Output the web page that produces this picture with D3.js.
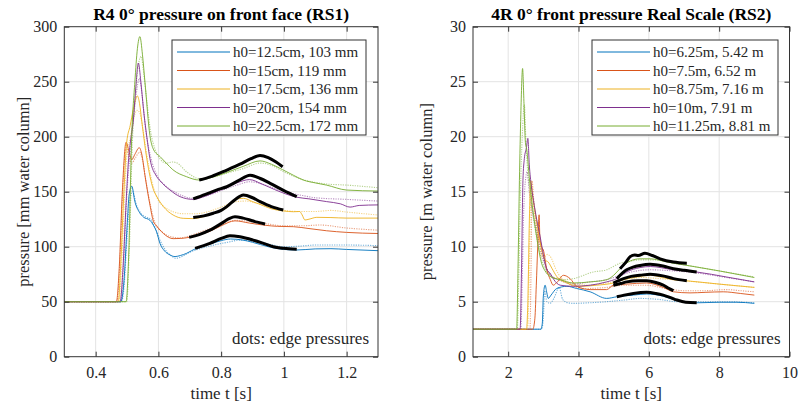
<!DOCTYPE html>
<html lang="en">
  <head>
    <meta charset="UTF-8" />
    <title>Front face pressure RS1 / RS2</title>
    <style>
      body { margin: 0; background: #ffffff; }
      svg { display: block; font-family: "Liberation Serif", "DejaVu Serif", serif; }
      .grid line { stroke: #e3e3e3; stroke-width: 1; }
      .axis text { fill: #262626; font-size: 16px; font-family: "Liberation Serif", "DejaVu Serif", serif; }
      .axis line { stroke: #333333; }
    </style>
  </head>
  <body>
    <div id="chart"></div>
    <script src="https://d3js.org/d3.v7.min.js"></script>
    <script>
      // colours of the five runs (MATLAB default order)
      const colors = ["#0072BD", "#D95319", "#EDB120", "#7E2F8E", "#77AC30"];

      // ---- RS1 (model scale, mm water column vs time s) ----
      const rs1Labels = ["h0=12.5cm, 103 mm", "h0=15cm, 119 mm", "h0=17.5cm, 136 mm", "h0=20cm, 154 mm", "h0=22.5cm, 172 mm"];
      const rs1XTicks = [0.4, 0.6, 0.8, 1, 1.2];
      const rs1YTicks = [0, 50, 100, 150, 200, 250, 300];
      const rs1Solid = [
        [[0.3,50],[0.48,50],[0.49,68],[0.5,118],[0.507,148],[0.515,155],[0.525,141],[0.54,131],[0.552,127],[0.573,124],[0.585,119],[0.594,113.6],[0.605,103],[0.62,96],[0.637,92.5],[0.653,91],[0.67,92],[0.69,94],[0.72,98.5],[0.76,102],[0.8,105.5],[0.83,107],[0.87,106],[0.9,104],[0.95,100],[1.0,97.5],[1.04,97],[1.1,98],[1.15,98.2],[1.2,97.5],[1.3,96.4]],
        [[0.3,50],[0.466,50],[0.475,80],[0.485,150],[0.497,195],[0.505,188],[0.515,179],[0.525,184],[0.539,190],[0.547,184],[0.557,165],[0.573,138],[0.584,123],[0.594,119],[0.616,112],[0.647,107.3],[0.67,107.5],[0.698,108.5],[0.73,111],[0.764,114],[0.8,119],[0.844,123.5],[0.89,121.5],[0.94,119.5],[0.98,118.5],[1.03,118.2],[1.08,116.5],[1.136,114.5],[1.2,113],[1.3,112]],
        [[0.3,50],[0.472,50],[0.48,85],[0.49,150],[0.499,195],[0.51,210],[0.52,225],[0.533,237],[0.54,230],[0.547,214],[0.563,180],[0.584,152],[0.594,146],[0.616,136.4],[0.647,128.8],[0.679,125.8],[0.711,125.5],[0.74,127],[0.775,130.4],[0.818,135.5],[0.845,143],[0.871,144],[0.9,141],[0.924,138.5],[0.96,134.5],[0.998,132.5],[1.03,131.8],[1.05,132],[1.058,129],[1.067,124.3],[1.08,125],[1.105,126.7],[1.15,126.5],[1.2,126],[1.3,126]],
        [[0.3,50],[0.478,50],[0.487,80],[0.497,140],[0.505,180],[0.512,198],[0.52,215],[0.528,245],[0.536,267],[0.544,250],[0.552,226],[0.563,200],[0.573,180],[0.594,164],[0.605,160],[0.637,151.5],[0.669,145.5],[0.711,143],[0.75,146],[0.8,152],[0.85,158],[0.89,161],[0.93,157],[0.97,152],[1.041,145],[1.08,143.5],[1.136,141],[1.18,139],[1.211,136],[1.24,137.5],[1.3,138]],
        [[0.3,50],[0.497,50],[0.505,90],[0.515,201],[0.525,250],[0.533,280],[0.541,291],[0.549,275],[0.557,250],[0.573,201],[0.585,188],[0.605,182],[0.625,176],[0.646,170],[0.69,163.6],[0.73,160.6],[0.77,163],[0.818,167.5],[0.87,173],[0.924,178],[0.96,175],[0.996,170],[1.03,165],[1.062,160.6],[1.1,158],[1.136,156],[1.2,151.5],[1.3,150.6]]
      ];
      const rs1Dots = [
        [[0.3,50],[0.482,50],[0.49,62],[0.5,108],[0.51,145],[0.518,150],[0.53,138],[0.545,130],[0.56,127],[0.575,125],[0.59,117],[0.605,106],[0.62,98],[0.64,92],[0.655,89.5],[0.675,91],[0.7,95],[0.73,98],[0.77,101],[0.82,104],[0.86,106],[0.9,105],[0.95,102.5],[1.0,100],[1.05,100.5],[1.1,101.5],[1.2,101.5],[1.3,101]],
        [[0.3,50],[0.468,50],[0.477,85],[0.487,155],[0.497,190],[0.505,183],[0.515,176],[0.527,181],[0.54,186],[0.55,178],[0.56,160],[0.575,137],[0.59,121],[0.61,114],[0.64,109],[0.67,108],[0.7,110],[0.75,115],[0.8,120],[0.845,124],[0.89,123],[0.94,121],[1.0,119],[1.06,119],[1.115,119.7],[1.2,117],[1.3,115]],
        [[0.3,50],[0.474,50],[0.482,80],[0.492,145],[0.5,185],[0.51,198],[0.52,215],[0.532,224],[0.54,222],[0.55,208],[0.565,180],[0.585,153],[0.6,142],[0.62,136],[0.647,131.8],[0.68,130],[0.72,130],[0.76,132],[0.8,136],[0.85,141],[0.88,141.5],[0.92,139],[0.96,135.5],[1.0,133],[1.05,132],[1.1,132],[1.15,133],[1.2,131.5],[1.3,128.8]],
        [[0.3,50],[0.48,50],[0.489,85],[0.5,150],[0.51,185],[0.52,215],[0.53,240],[0.539,253],[0.548,238],[0.56,205],[0.575,182],[0.595,165],[0.62,156],[0.65,150],[0.68,146],[0.71,144],[0.75,146],[0.8,151],[0.85,156],[0.89,159],[0.93,157],[0.97,153],[1.02,149],[1.06,146.5],[1.1,144.5],[1.2,143],[1.3,141.5]],
        [[0.3,50],[0.499,50],[0.507,95],[0.517,195],[0.527,240],[0.536,265],[0.545,273],[0.553,258],[0.562,235],[0.575,205],[0.59,188],[0.605,180],[0.625,176],[0.645,177],[0.66,176],[0.69,168],[0.73,162],[0.77,163],[0.82,167],[0.87,171],[0.924,176],[0.96,174],[1.0,168],[1.06,161],[1.136,157],[1.2,156],[1.3,153.6]]
      ];
      const rs1Fit = [
        [[0.717,98.5],[0.764,103],[0.8,107.5],[0.828,110],[0.86,109],[0.902,106],[0.935,103],[0.966,100],[1.0,98.5],[1.041,97.6]],
        [[0.698,108.5],[0.73,111],[0.764,115],[0.8,121],[0.825,125.5],[0.844,127.3],[0.87,126],[0.892,124.3],[0.915,122.3],[0.94,120.6]],
        [[0.711,126.5],[0.745,128],[0.775,130.4],[0.8,133],[0.818,136.4],[0.845,143],[0.871,147],[0.9,144.5],[0.924,141],[0.96,136.5],[0.998,133.4]],
        [[0.711,143.4],[0.75,147.5],[0.785,151.5],[0.818,154.5],[0.855,160],[0.892,165],[0.925,162],[0.956,157.6],[1.0,151],[1.041,145.5]],
        [[0.73,160.6],[0.77,164],[0.818,169.7],[0.86,175],[0.895,180],[0.924,183],[0.95,181],[0.975,177],[0.996,172.7]]
      ];

      // ---- RS2 (real scale, m water column vs time s) ----
      const rs2Labels = ["h0=6.25m, 5.42 m", "h0=7.5m, 6.52 m", "h0=8.75m, 7.16 m", "h0=10m, 7.91 m", "h0=11.25m, 8.81 m"];
      const rs2XTicks = [2, 4, 6, 8, 10];
      const rs2YTicks = [0, 5, 10, 15, 20, 25, 30];
      const rs2Solid = [
        [[1,2.5],[2.93,2.5],[2.97,3.0],[3.0,5.5],[3.05,6.5],[3.1,5.8],[3.14,5.3],[3.22,5.6],[3.38,6.2],[3.67,6.4],[3.95,6.2],[4.33,5.9],[4.8,5.3],[5.09,5.45],[5.56,5.6],[5.94,5.7],[6.41,5.5],[6.8,5.1],[7.36,4.9],[8.0,4.95],[8.5,4.95],[9,4.85]],
        [[1,2.5],[2.7,2.5],[2.76,3.5],[2.8,6.5],[2.84,10],[2.88,12.9],[2.9,11],[2.95,10],[3.0,9.7],[3.1,7.9],[3.2,7.0],[3.28,6.5],[3.4,6.8],[3.57,7.4],[3.76,7.1],[3.95,6.4],[4.33,6.1],[4.8,6.1],[4.99,6.5],[5.37,6.6],[5.94,6.7],[6.41,6.3],[6.7,5.9],[7.17,5.8],[7.6,5.85],[8.12,5.9],[8.6,5.75],[9,5.6]],
        [[1,2.5],[2.52,2.5],[2.56,5],[2.6,12],[2.64,16],[2.7,14.5],[2.76,13.3],[2.85,11.5],[2.95,9.7],[3.05,8.8],[3.14,8.6],[3.25,8.0],[3.38,7.3],[3.67,6.7],[4.04,6.4],[4.52,6.5],[4.99,6.7],[5.28,7.0],[5.75,7.3],[6.04,7.4],[6.4,7.2],[6.7,7.0],[7.08,6.9],[8,6.6],[9,6.3]],
        [[1,2.5],[2.34,2.5],[2.38,8],[2.42,16],[2.46,18],[2.52,19],[2.56,19.85],[2.6,17.5],[2.66,15.5],[2.72,14.2],[2.81,12.5],[2.91,10.9],[3.0,9.3],[3.1,7.9],[3.19,7.6],[3.3,7.0],[3.48,6.5],[3.85,6.4],[4.33,6.5],[4.8,6.8],[5.09,7.1],[5.37,7.7],[5.75,8.1],[6.04,8.2],[6.7,7.9],[7.36,7.7],[8.2,7.25],[9,6.8]],
        [[1,2.5],[2.24,2.5],[2.28,8],[2.32,16],[2.36,22],[2.41,26.2],[2.45,23],[2.49,19.5],[2.53,18.8],[2.6,16.3],[2.67,14.2],[2.81,10.9],[2.95,8.5],[3.05,7.8],[3.19,7.3],[3.48,7.0],[3.85,6.7],[4.33,6.8],[4.8,7.0],[5.0,7.4],[5.18,8.0],[5.47,8.7],[5.75,8.9],[6.04,8.9],[6.4,8.7],[6.7,8.5],[7.08,8.3],[8,7.8],[9,7.2]]
      ];
      const rs2Dots = [
        [[1,2.5],[2.95,2.5],[3.0,3.5],[3.04,6.0],[3.1,5.0],[3.19,4.85],[3.3,5.3],[3.45,6.3],[3.55,5.2],[3.7,4.9],[3.85,4.85],[4.3,4.9],[4.8,5.0],[5.3,5.15],[5.75,5.3],[6.3,5.2],[6.8,5.0],[7.5,5.0],[8.2,5.0],[9,4.9]],
        [[1,2.5],[2.62,2.5],[2.65,8],[2.68,16],[2.72,14.5],[2.8,12],[2.9,10.5],[3.0,9.0],[3.1,8.0],[3.25,7.2],[3.45,7.1],[3.6,6.9],[3.8,6.5],[4.2,6.2],[4.8,6.3],[5.3,6.5],[5.9,6.5],[6.5,6.2],[7.0,6.0],[7.6,6.0],[8.2,6.1],[8.6,6.0],[9,5.9]],
        [[1,2.5],[2.55,2.5],[2.59,6],[2.63,13],[2.67,15],[2.73,13.5],[2.82,11.5],[2.92,9.5],[3.0,9.0],[3.12,9.3],[3.22,9.0],[3.35,8.0],[3.5,7.2],[3.8,6.7],[4.3,6.5],[4.8,6.7],[5.3,7.0],[5.8,7.2],[6.3,7.1],[7.0,6.9],[8.0,6.6],[9,6.3]],
        [[1,2.5],[2.36,2.5],[2.4,7],[2.44,13],[2.49,16],[2.54,16.8],[2.6,15],[2.7,13],[2.8,11.5],[2.9,10],[3.0,8.8],[3.1,8.0],[3.25,7.3],[3.5,6.9],[3.85,6.6],[4.33,6.8],[4.8,7.0],[5.1,7.3],[5.5,7.7],[6.04,7.9],[6.7,7.8],[7.4,7.6],[8.2,7.2],[9,6.8]],
        [[1,2.5],[2.26,2.5],[2.3,7],[2.35,15],[2.4,20],[2.46,22.9],[2.5,20],[2.55,17],[2.62,15],[2.7,13],[2.8,11],[2.92,9.2],[3.05,8.0],[3.2,7.4],[3.5,7.0],[3.85,7.1],[4.42,7.7],[4.8,7.9],[5.18,8.5],[5.5,8.7],[5.75,8.8],[6.2,8.8],[6.7,8.5],[7.1,8.3],[8,7.8],[9,7.25]]
      ];
      const rs2Fit = [
        [[5.09,5.45],[5.3,5.6],[5.56,5.75],[5.94,5.85],[6.2,5.75],[6.41,5.6],[6.6,5.4],[6.8,5.15],[7.05,4.95],[7.36,4.9]],
        [[4.99,6.5],[5.2,6.65],[5.37,6.8],[5.7,6.9],[5.94,6.9],[6.2,6.75],[6.41,6.5],[6.55,6.25],[6.7,6.0]],
        [[4.99,6.7],[5.28,7.1],[5.5,7.3],[5.75,7.4],[6.04,7.5],[6.4,7.35],[6.7,7.1],[7.08,6.9]],
        [[5.09,7.1],[5.37,7.9],[5.55,8.15],[5.75,8.3],[6.04,8.4],[6.4,8.25],[6.7,8.0],[7.0,7.85],[7.36,7.7]],
        [[5.18,8.0],[5.35,8.6],[5.47,9.1],[5.6,9.25],[5.7,9.2],[5.89,9.4],[6.1,9.2],[6.32,8.9],[6.7,8.6],[7.08,8.5]]
      ];

      const width = 799;
      const height = 407;

      const svg = d3.select("#chart")
        .append("svg")
        .attr("width", width)
        .attr("height", height);

      drawPanel({
        id: "rs1", left: 64.3, right: 378, top: 26.7, bottom: 356.7,
        xDomain: [0.3, 1.3], yDomain: [0, 300],
        xTicks: rs1XTicks, yTicks: rs1YTicks,
        title: "R4 0° pressure on front face (RS1)",
        yLabel: "pressure [mm water column]", yLabelX: 29,
        labels: rs1Labels, solid: rs1Solid, dots: rs1Dots, fit: rs1Fit,
        legend: { x: 172, y: 40, w: 194, h: 95 }
      });

      drawPanel({
        id: "rs2", left: 473, right: 789.5, top: 26.7, bottom: 356.7,
        xDomain: [1, 10], yDomain: [0, 30],
        xTicks: rs2XTicks, yTicks: rs2YTicks,
        title: "4R 0° front pressure Real Scale (RS2)",
        yLabel: "pressure [m water column]", yLabelX: 432,
        labels: rs2Labels, solid: rs2Solid, dots: rs2Dots, fit: rs2Fit,
        legend: { x: 592, y: 40, w: 186, h: 95 }
      });

      function drawPanel(p) {
        const x = d3.scaleLinear().domain(p.xDomain).range([p.left, p.right]);
        const y = d3.scaleLinear().domain(p.yDomain).range([p.bottom, p.top]);
        const g = svg.append("g");

        g.append("clipPath").attr("id", "clip-" + p.id)
          .append("rect")
          .attr("x", p.left).attr("y", p.top)
          .attr("width", p.right - p.left).attr("height", p.bottom - p.top);

        // grid
        const grid = g.append("g").attr("class", "grid");
        grid.selectAll(".gx").data(p.xTicks.filter(d => d < p.xDomain[1])).join("line")
          .attr("x1", d => x(d)).attr("x2", d => x(d))
          .attr("y1", p.top).attr("y2", p.bottom);
        grid.selectAll(".gy").data(p.yTicks.slice(1, -1)).join("line")
          .attr("x1", p.left).attr("x2", p.right)
          .attr("y1", d => y(d)).attr("y2", d => y(d));

        // curves
        const line = d3.line().x(d => x(d[0])).y(d => y(d[1])).curve(d3.curveMonotoneX);
        const plot = g.append("g").attr("clip-path", "url(#clip-" + p.id + ")");

        plot.selectAll(".dots").data(p.dots).join("path")
          .attr("fill", "none")
          .attr("stroke", (d, i) => colors[i])
          .attr("stroke-width", 1.1)
          .attr("stroke-opacity", 0.55)
          .attr("stroke-dasharray", "1.2,1.2")
          .attr("d", line);

        plot.selectAll(".solid").data(p.solid).join("path")
          .attr("fill", "none")
          .attr("stroke", (d, i) => colors[i])
          .attr("stroke-width", 1)
          .attr("stroke-opacity", 0.9)
          .attr("d", line);

        plot.selectAll(".fit").data(p.fit).join("path")
          .attr("fill", "none")
          .attr("stroke", "#000000")
          .attr("stroke-width", 3)
          .attr("stroke-linecap", "butt")
          .attr("d", line);

        // axes with inward ticks on all four sides
        const fmt = d3.format("~g");
        g.append("g").attr("class", "axis")
          .attr("transform", "translate(0," + p.bottom + ")")
          .call(d3.axisBottom(x).tickValues(p.xTicks).tickSize(-5).tickPadding(10).tickFormat(fmt));
        g.append("g").attr("class", "axis")
          .attr("transform", "translate(0," + p.top + ")")
          .call(d3.axisTop(x).tickValues(p.xTicks).tickSize(-5).tickFormat(""));
        g.append("g").attr("class", "axis")
          .attr("transform", "translate(" + p.left + ",0)")
          .call(d3.axisLeft(y).tickValues(p.yTicks).tickSize(-5).tickPadding(7).tickFormat(fmt));
        g.append("g").attr("class", "axis")
          .attr("transform", "translate(" + p.right + ",0)")
          .call(d3.axisRight(y).tickValues(p.yTicks).tickSize(-5).tickFormat(""));
        g.selectAll(".axis .domain").remove();

        // frame
        g.append("rect")
          .attr("x", p.left).attr("y", p.top)
          .attr("width", p.right - p.left).attr("height", p.bottom - p.top)
          .attr("fill", "none").attr("stroke", "#333333").attr("stroke-width", 1);

        // title and labels
        const cx = (p.left + p.right) / 2;
        g.append("text")
          .attr("x", cx).attr("y", 20)
          .attr("text-anchor", "middle")
          .attr("font-size", 17.5).attr("font-weight", "bold")
          .attr("fill", "#000")
          .text(p.title);

        g.append("text")
          .attr("x", cx).attr("y", 399)
          .attr("text-anchor", "middle")
          .attr("font-size", 17).attr("fill", "#262626")
          .text("time t [s]");

        g.append("text")
          .attr("transform", "translate(" + p.yLabelX + "," + ((p.top + p.bottom) / 2) + ") rotate(-90)")
          .attr("text-anchor", "middle")
          .attr("font-size", 16.5).attr("fill", "#262626")
          .text(p.yLabel);

        g.append("text")
          .attr("x", p.right - 9).attr("y", 344)
          .attr("text-anchor", "end")
          .attr("font-size", 17).attr("fill", "#262626")
          .text("dots: edge pressures");

        // legend
        const lg = g.append("g").attr("transform", "translate(" + p.legend.x + "," + p.legend.y + ")");
        lg.append("rect")
          .attr("width", p.legend.w).attr("height", p.legend.h)
          .attr("fill", "#fff").attr("stroke", "#333333").attr("stroke-width", 1);
        const items = lg.selectAll(".item").data(p.labels).join("g")
          .attr("transform", (d, i) => "translate(0," + (12 + i * 18.5) + ")");
        items.append("line")
          .attr("x1", 5).attr("x2", 58)
          .attr("stroke", (d, i) => colors[i]).attr("stroke-width", 1);
        items.append("text")
          .attr("x", 61).attr("y", 5)
          .attr("font-size", 15).attr("fill", "#262626")
          .text(d => d);
      }
    </script>
  </body>
</html>
